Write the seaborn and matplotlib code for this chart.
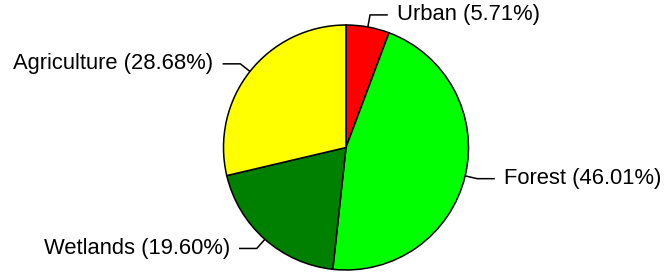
import numpy as np
import matplotlib
matplotlib.use("Agg")
import matplotlib.pyplot as plt
import seaborn as sns

categories = ["Urban", "Forest", "Wetlands", "Agriculture"]
values = [5.71, 46.01, 19.60, 28.68]
colors = ["#FF0000", "#00FF00", "#008000", "#FFFF00"]
labels = [f"{c} ({v:.2f}%)" for c, v in zip(categories, values)]

sns.set_theme(style="white")
plt.rcParams["font.family"] = ["Liberation Sans", "DejaVu Sans"]

W, H = 667, 273
R = 122.5
cx, cy = 346, 147.5
fig = plt.figure(figsize=(W / 100, H / 100), dpi=100)
ax = fig.add_axes([0, 0, 1, 1])

wedges, _ = ax.pie(values, colors=colors, startangle=90, counterclock=False,
                   radius=1.0, center=(0, 0), frame=True,
                   wedgeprops=dict(edgecolor="black", linewidth=1.1))
ax.set_xlim(-cx / R, (W - cx) / R)
ax.set_ylim(-(H - cy) / R, cy / R)
ax.set_aspect("equal")
ax.axis("off")

for w, lab in zip(wedges, labels):
    ang = np.deg2rad((w.theta1 + w.theta2) / 2)
    x0, y0 = np.cos(ang), np.sin(ang)
    x1, y1 = 1.1 * x0, 1.1 * y0
    s = 1 if x0 >= 0 else -1
    x2 = x1 + s * 0.145
    ax.plot([x0, x1, x2], [y0, y1, y1], color="black", lw=1.1, solid_capstyle="butt")
    ax.text(x2 + s * 0.075, y1, lab, ha="left" if s > 0 else "right",
            va="center", fontsize=15.8, color="black")

fig.savefig("out.png", dpi=100)
